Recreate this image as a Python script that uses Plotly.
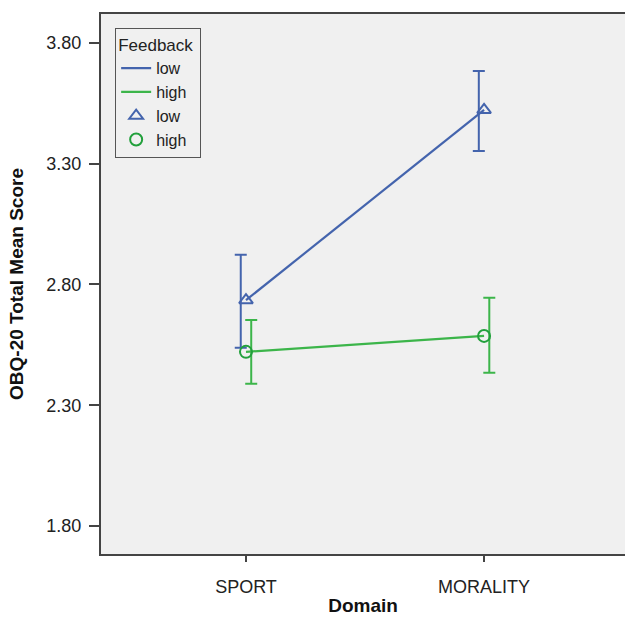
import plotly.graph_objects as go

domains = ["SPORT", "MORALITY"]
low_mean = [2.735, 3.523]
low_upper = [2.923, 3.684]
low_lower = [2.538, 3.353]
high_mean = [2.521, 2.587]
high_upper = [2.653, 2.745]
high_lower = [2.389, 2.434]
y_ticks = [1.80, 2.30, 2.80, 3.30, 3.80]

BLUE = "#4464ad"
GREEN = "#3cb54a"
DGREEN = "#22a03c"
pos = list(range(len(domains)))
dodge = 0.022

fig = go.Figure()
# lines
fig.add_trace(go.Scatter(x=pos, y=low_mean, mode="lines", name="low",
                         line=dict(color=BLUE, width=2.2)))
fig.add_trace(go.Scatter(x=pos, y=high_mean, mode="lines", name="high",
                         line=dict(color=GREEN, width=2.2)))
# error bars (dodged)
fig.add_trace(go.Scatter(x=[p - dodge for p in pos], y=low_mean, mode="markers",
                         marker=dict(size=0.1, color="rgba(0,0,0,0)"), showlegend=False,
                         error_y=dict(type="data", symmetric=False,
                                      array=[u - m for u, m in zip(low_upper, low_mean)],
                                      arrayminus=[m - l for l, m in zip(low_lower, low_mean)],
                                      color=BLUE, thickness=2, width=6)))
fig.add_trace(go.Scatter(x=[p + dodge for p in pos], y=high_mean, mode="markers",
                         marker=dict(size=0.1, color="rgba(0,0,0,0)"), showlegend=False,
                         error_y=dict(type="data", symmetric=False,
                                      array=[u - m for u, m in zip(high_upper, high_mean)],
                                      arrayminus=[m - l for l, m in zip(high_lower, high_mean)],
                                      color=GREEN, thickness=2, width=6)))
# markers
fig.add_trace(go.Scatter(x=pos, y=low_mean, mode="markers", name="low",
                         marker=dict(symbol="triangle-up-open", size=12, color=BLUE,
                                     line=dict(width=2, color=BLUE))))
fig.add_trace(go.Scatter(x=pos, y=high_mean, mode="markers", name="high",
                         marker=dict(symbol="circle-open", size=12, color=DGREEN,
                                     line=dict(width=2, color=DGREEN))))

font = "Liberation Sans, Arial, sans-serif"
fig.update_layout(
    width=625, height=617,
    margin=dict(l=101, r=0, t=14, b=63),
    paper_bgcolor="white", plot_bgcolor="#f0f0f0",
    font=dict(family=font, size=17, color="#222"),
    showlegend=True,
    legend=dict(x=0.027, y=0.974, xanchor="left", yanchor="top",
                bgcolor="#f0f0f0", bordercolor="#555", borderwidth=1,
                title=dict(text="Feedback ", font=dict(size=17)),
                font=dict(size=16), itemwidth=30, tracegroupgap=0),
    xaxis=dict(range=[-0.609, 1.592], tickvals=pos, ticktext=domains,
               showgrid=False, zeroline=False, showline=True, linecolor="#444",
               linewidth=2, mirror=True, ticks="outside", ticklen=6,
               tickcolor="#444", tickwidth=2, ticklabelstandoff=9,
               tickfont=dict(size=18, color="#222"),
               title=dict(text="<b>Domain</b>", font=dict(size=19, color="#111"), standoff=3)),
    yaxis=dict(range=[1.684, 3.92], tickvals=y_ticks,
               ticktext=[f"{v:.2f}" for v in y_ticks],
               showgrid=False, zeroline=False, showline=True, linecolor="#444",
               linewidth=2, ticks="outside", ticklen=10, tickcolor="#444", tickwidth=2,
               ticklabelstandoff=4,
               tickfont=dict(size=18, color="#222"),
               title=dict(text="<b>OBQ-20 Total Mean Score</b>", font=dict(size=19, color="#111"),
                          standoff=18)),
)
fig.write_html("out.html", config={"displayModeBar": False},
               post_script="document.body.style.margin='0';document.body.style.overflow='hidden';")
